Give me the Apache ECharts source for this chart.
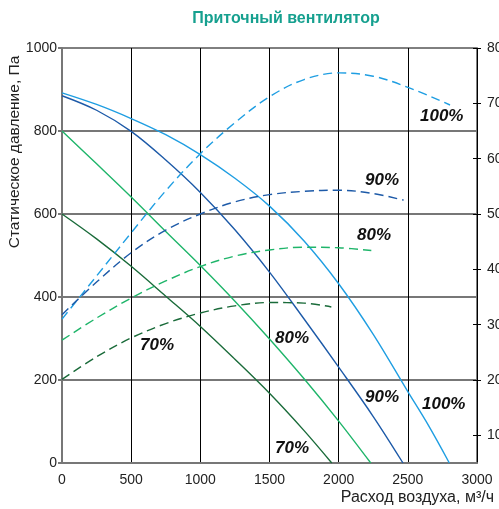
<!DOCTYPE html>
<html>
<head>
<meta charset="utf-8">
<script src="https://cdn.jsdelivr.net/npm/echarts@6/dist/echarts.min.js"></script>
<style>
  html, body { margin: 0; padding: 0; background: #fff; }
  #chart { width: 499px; height: 509px; }
</style>
</head>
<body>
<div id="chart"></div>
<script>
// Static pressure (Pa) against airflow (m3/h) for each fan speed
const flow100 = [0, 250, 500, 750, 1000, 1250, 1500, 1750, 2000, 2250, 2500, 2650, 2800];
const pressure100 = [892, 864, 830, 791, 743, 686, 619, 535, 432, 310, 172, 90, 0];

const flow90 = [0, 250, 500, 750, 1000, 1250, 1500, 1750, 2000, 2250, 2465];
const pressure90 = [885, 850, 799, 730, 652, 562, 460, 347, 231, 112, 0];

const flow80 = [0, 250, 500, 750, 1000, 1250, 1500, 1750, 2000, 2232];
const pressure80 = [800, 721, 641, 558, 476, 390, 299, 203, 101, 0];

const flow70 = [0, 250, 500, 750, 1000, 1250, 1500, 1750, 1950];
const pressure70 = [600, 540, 474, 402, 329, 250, 168, 78, 0];

// Power curves, read on the right-hand axis
const powerFlow100 = [0, 250, 500, 750, 1000, 1250, 1500, 1750, 2000, 2250, 2500, 2805];
const power100 = [31, 38.8, 46.6, 54.2, 60.9, 66.5, 71.2, 74.3, 75.5, 74.9, 72.9, 69.7];

const powerFlow90 = [0, 250, 500, 750, 1000, 1250, 1500, 1750, 2000, 2250, 2470];
const power90 = [31.8, 37.7, 43.0, 47.1, 50.0, 52.2, 53.5, 54.1, 54.3, 53.7, 52.5];

const powerFlow80 = [0, 250, 500, 750, 1000, 1250, 1500, 1750, 2000, 2236];
const power80 = [27.2, 31.2, 34.8, 37.9, 40.5, 42.4, 43.5, 44.0, 43.9, 43.4];

const powerFlow70 = [0, 250, 500, 750, 1000, 1250, 1500, 1750, 1947];
const power70 = [20.1, 24.2, 27.6, 30.2, 32.1, 33.4, 34.0, 33.9, 33.2];

// Axis ticks
const flowTicks = [0, 500, 1000, 1500, 2000, 2500, 3000];
const pressureTicks = [0, 200, 400, 600, 800, 1000];
const powerTicks = [10, 20, 30, 40, 50, 60, 70, 80];

const speedLabels = ['100%', '90%', '80%', '70%'];

const colors = {
  s100: '#1f9ee2',
  s90: '#1d5aa8',
  s80: '#1fb56a',
  s70: '#1a6b3a'
};

const FONT = 'Liberation Sans, Arial, sans-serif';

function pairs(xs, ys) {
  return xs.map((x, i) => [x, ys[i]]);
}

function solid(name, xs, ys, color) {
  return {
    name, type: 'line', xAxisIndex: 0, yAxisIndex: 0,
    data: pairs(xs, ys), smooth: 0.35, symbol: 'none',
    lineStyle: { color, width: 1.4 }, z: 3, animation: false
  };
}

function dashed(name, xs, ys, color) {
  return {
    name, type: 'line', xAxisIndex: 0, yAxisIndex: 1,
    data: pairs(xs, ys), smooth: 0.35, symbol: 'none',
    lineStyle: { color, width: 1.4, type: [9, 5] }, z: 3, animation: false
  };
}

const chart = echarts.init(document.getElementById('chart'), null, { renderer: 'canvas' });

function speedText(text, x, y) {
  return {
    type: 'text', left: x, top: y, z: 10,
    style: {
      text, fontFamily: FONT, fontSize: 17,
      fontWeight: 'bold', fontStyle: 'italic', fill: '#111'
    }
  };
}

const plain = v => String(v);

chart.setOption({
  animation: false,
  backgroundColor: '#fff',
  grid: {
    left: 62, right: 22, top: 48, bottom: 46,
    containLabel: false, outerBoundsMode: 'none',
    show: true, borderColor: '#000', borderWidth: 1
  },
  xAxis: {
    type: 'value', min: 0, max: 3000, interval: 500,
    axisLine: { show: true, lineStyle: { color: '#777', width: 2 } },
    axisTick: { show: false },
    axisLabel: {
      color: '#222', fontSize: 14, margin: 10, fontFamily: FONT,
      formatter: plain, customValues: flowTicks
    },
    splitLine: {
      show: true, showMinLine: false, showMaxLine: false,
      lineStyle: { color: '#000', width: 1 }
    }
  },
  yAxis: [
    {
      type: 'value', position: 'left', min: 0, max: 1000, interval: 200,
      axisLine: { show: true, lineStyle: { color: '#777', width: 2 } },
      axisTick: { show: true, length: 4, lineStyle: { color: '#777', width: 2 } },
      axisLabel: {
        color: '#222', fontSize: 14, margin: 5, fontFamily: FONT,
        formatter: plain, customValues: pressureTicks
      },
      splitLine: {
        show: true, showMinLine: false, showMaxLine: false,
        lineStyle: { color: '#777', width: 2 }
      }
    },
    {
      type: 'value', position: 'right', min: 5, max: 80,
      axisLine: { show: true, lineStyle: { color: '#000', width: 1 } },
      axisTick: { show: true, length: 4, customValues: powerTicks, lineStyle: { color: '#000', width: 1 } },
      axisLabel: {
        color: '#222', fontSize: 14, margin: 10, fontFamily: FONT,
        formatter: plain, customValues: powerTicks, hideOverlap: false
      },
      splitLine: { show: false }
    },
    {
      type: 'value', position: 'right', min: 5, max: 80,
      axisLine: { show: false },
      axisTick: { show: true, inside: true, length: 4, customValues: powerTicks, lineStyle: { color: '#000', width: 1 } },
      axisLabel: { show: false },
      splitLine: { show: false }
    }
  ],
  series: [
    solid('p100', flow100, pressure100, colors.s100),
    solid('p90', flow90, pressure90, colors.s90),
    solid('p80', flow80, pressure80, colors.s80),
    solid('p70', flow70, pressure70, colors.s70),
    dashed('w100', powerFlow100, power100, colors.s100),
    dashed('w90', powerFlow90, power90, colors.s90),
    dashed('w80', powerFlow80, power80, colors.s80),
    dashed('w70', powerFlow70, power70, colors.s70)
  ],
  graphic: [
    {
      type: 'text', x: 286, y: 19, z: 10,
      style: {
        text: 'Приточный вентилятор', fontFamily: FONT,
        fontSize: 16, fontWeight: 'bold', fill: '#16a08f',
        align: 'center', verticalAlign: 'middle'
      }
    },
    {
      type: 'text', x: 15, y: 152, rotation: Math.PI / 2, z: 10,
      style: {
        text: 'Статическое давление, Па', fontFamily: FONT,
        fontSize: 15.5, fill: '#222',
        align: 'center', verticalAlign: 'middle'
      }
    },
    {
      type: 'text', x: 494, y: 498, z: 10,
      style: {
        text: 'Расход воздуха, м³/ч', fontFamily: FONT,
        fontSize: 16, fill: '#222',
        align: 'right', verticalAlign: 'middle'
      }
    },
    // Speed labels beside the power curves
    speedText(speedLabels[0], 420, 108),
    speedText(speedLabels[1], 365, 172),
    speedText(speedLabels[2], 357, 227),
    speedText(speedLabels[3], 140, 337),
    // Speed labels beside the pressure curves
    speedText(speedLabels[2], 275, 330),
    speedText(speedLabels[1], 365, 389),
    speedText(speedLabels[0], 422, 396),
    speedText(speedLabels[3], 275, 440)
  ]
});
</script>
</body>
</html>
